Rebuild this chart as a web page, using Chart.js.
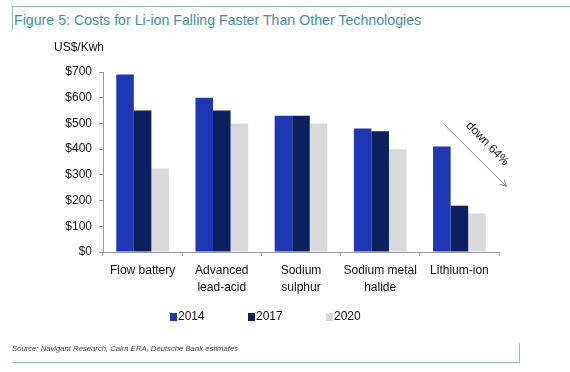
<!DOCTYPE html>
<html>
<head>
<meta charset="utf-8">
<script src="https://cdn.jsdelivr.net/npm/chart.js@4/dist/chart.umd.min.js"></script>
<style>
  body { margin: 0; background: #fff; }
  #wrap { position: relative; width: 570px; height: 372px; overflow: hidden; font-family: "Liberation Sans", Arial, sans-serif; }
  #chart { position: absolute; left: 0; top: 0; }
  .line { position: absolute; background: #8fbcc4; }
  #title { position: absolute; left: 14px; top: 12px; font-size: 14.2px; color: #3f8f9f; white-space: nowrap; }
  #source { position: absolute; left: 12px; top: 344px; font-size: 7.7px; font-style: italic; color: #444; white-space: nowrap; }
</style>
</head>
<body>
<div id="wrap">
  <div class="line" style="left:12px;top:6px;width:558px;height:1px"></div>
  <div class="line" style="left:12px;top:6px;width:1px;height:24px"></div>
  <div id="title">Figure 5: Costs for Li-ion Falling Faster Than Other Technologies</div>
  <canvas id="chart" width="570" height="372"></canvas>
  <div id="source">Source: Navigant Research, Cairn ERA, Deutsche Bank estimates</div>
  <div class="line" style="left:12px;top:362px;width:508px;height:1px"></div>
  <div class="line" style="left:519px;top:343px;width:1px;height:20px"></div>
</div>
<script>
// categories and values (US$/Kwh)
const categories = [
  ['Flow battery'],
  ['Advanced', 'lead-acid'],
  ['Sodium', 'sulphur'],
  ['Sodium metal', 'halide'],
  ['Lithium-ion']
];
const years = ['2014', '2017', '2020'];
const cost2014 = [690, 600, 530, 480, 410];
const cost2017 = [550, 550, 530, 470, 180];
const cost2020 = [325, 500, 500, 400, 150];
const yTicks = [0, 100, 200, 300, 400, 500, 600, 700];
const colors = ['#1e37b2', '#0c1f5e', '#d9d9d9'];

const FONT = '"Liberation Sans", Arial, sans-serif';

// legend row, unit label and the "down 64%" arrow
const extras = {
  id: 'extras',
  afterDraw(chart) {
    const ctx = chart.ctx;
    const area = chart.chartArea;
    const x = chart.scales.x, y = chart.scales.y;
    ctx.save();
    ctx.font = '12px ' + FONT;
    ctx.fillStyle = '#111';
    ctx.textBaseline = 'middle';
    ctx.textAlign = 'left';
    ctx.fillText('US$/Kwh', area.left - 49, 48);

    // legend
    let lx = 170;
    chart.data.datasets.forEach(ds => {
      ctx.fillStyle = ds.backgroundColor;
      ctx.fillRect(lx, 313, 7, 8);
      ctx.fillStyle = '#111';
      ctx.fillText(ds.label, lx + 8, 317);
      lx += 78;
    });

    // arrow near Lithium-ion
    const cx = x.getPixelForValue(4);
    const x0 = cx - 15, y0 = y.getPixelForValue(495);
    const x1 = cx + 47, y1 = y.getPixelForValue(255);
    ctx.strokeStyle = '#6f7f8c';
    ctx.lineWidth = 1;
    ctx.beginPath();
    ctx.moveTo(x0, y0);
    ctx.lineTo(x1, y1);
    const ang = Math.atan2(y1 - y0, x1 - x0);
    ctx.moveTo(x1, y1);
    ctx.lineTo(x1 - 7 * Math.cos(ang - 0.45), y1 - 7 * Math.sin(ang - 0.45));
    ctx.moveTo(x1, y1);
    ctx.lineTo(x1 - 7 * Math.cos(ang + 0.45), y1 - 7 * Math.sin(ang + 0.45));
    ctx.stroke();

    ctx.translate(cx + 28, y.getPixelForValue(421));
    ctx.rotate(0.8);
    ctx.fillStyle = '#222';
    ctx.textAlign = 'center';
    ctx.font = '12px ' + FONT;
    ctx.fillText('down 64%', 0, 0);
    ctx.restore();
  }
};

new Chart(document.getElementById('chart'), {
  type: 'bar',
  data: {
    labels: categories,
    datasets: [
      { label: years[0], data: cost2014, backgroundColor: colors[0] },
      { label: years[1], data: cost2017, backgroundColor: colors[1] },
      { label: years[2], data: cost2020, backgroundColor: colors[2] }
    ]
  },
  options: {
    responsive: false,
    animation: false,
    layout: { padding: { left: 0, right: 71, top: 72, bottom: 0 } },
    datasets: { bar: { categoryPercentage: 0.665, barPercentage: 1 } },
    plugins: { legend: { display: false }, tooltip: { enabled: false } },
    scales: {
      x: {
        grid: { display: true, drawOnChartArea: false, tickLength: 4, color: '#9a9a9a' },
        border: { color: '#9a9a9a' },
        ticks: { color: '#111', padding: 6, maxRotation: 0, autoSkip: false,
                 font: { family: FONT, size: 12, lineHeight: 1.4 } },
        afterFit(scale) { scale.height = 120; }
      },
      y: {
        min: 0, max: 700,
        afterBuildTicks(scale) { scale.ticks = yTicks.map(v => ({ value: v })); },
        grid: { display: true, drawOnChartArea: false, tickLength: 4, color: '#9a9a9a' },
        border: { color: '#9a9a9a' },
        ticks: { color: '#111', padding: 7, font: { family: FONT, size: 12 },
                 callback: v => '$' + v },
        afterFit(scale) { scale.width = 103; }
      }
    }
  },
  plugins: [extras]
});
</script>
</body>
</html>
